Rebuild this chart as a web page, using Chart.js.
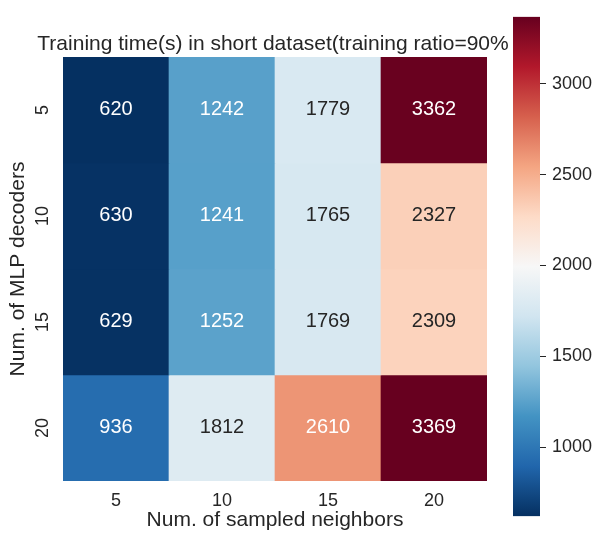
<!DOCTYPE html>
<html>
<head>
<meta charset="utf-8">
<script src="https://cdn.jsdelivr.net/npm/chart.js@4"></script>
<style>
  body { margin: 0; background: #fff; }
  #wrap { position: relative; width: 603px; height: 533px; }
  #heat { position: absolute; left: 0; top: 0; }
  #cbar { position: absolute; left: 500px; top: 0; }
</style>
</head>
<body>
<div id="wrap">
  <canvas id="heat" width="546" height="533"></canvas>
  <canvas id="cbar" width="103" height="533"></canvas>
</div>
<script>
// ---- Data ----
const neighbors = ["5", "10", "15", "20"];      // x categories
const decoders = ["5", "10", "15", "20"];       // y categories (top to bottom)
const dec5 = [620, 1242, 1779, 3362];
const dec10 = [630, 1241, 1765, 2327];
const dec15 = [629, 1252, 1769, 2309];
const dec20 = [936, 1812, 2610, 3369];
const cbarTicks = [1000, 1500, 2000, 2500, 3000];

const rows = [dec5, dec10, dec15, dec20];
const allValues = rows.flat();
const vmin = Math.min(...allValues);
const vmax = Math.max(...allValues);

// RdBu_r stops (low -> high)
const rdbuR = ["#053061", "#2166ac", "#4393c3", "#92c5de", "#d1e5f0", "#f7f7f7",
               "#fddbc7", "#f4a582", "#d6604d", "#b2182b", "#67001f"];

const TEXT = "#262626";
const FONT = '"Liberation Sans", Arial, sans-serif';
Chart.defaults.font.family = FONT;
Chart.defaults.color = TEXT;

function hexToRgb(h) {
  return [parseInt(h.slice(1, 3), 16), parseInt(h.slice(3, 5), 16), parseInt(h.slice(5, 7), 16)];
}

function cmap(v) {
  let t = (v - vmin) / (vmax - vmin);
  t = Math.max(0, Math.min(1, t)) * (rdbuR.length - 1);
  const i = Math.min(Math.floor(t), rdbuR.length - 2);
  const f = t - i;
  const a = hexToRgb(rdbuR[i]), b = hexToRgb(rdbuR[i + 1]);
  return a.map((c, k) => c + (b[k] - c) * f);
}

function toCss(rgb) {
  return "rgb(" + rgb.map(c => Math.round(c)).join(",") + ")";
}

// same rule seaborn uses to pick annotation colour
function textColor(rgb) {
  const lin = rgb.map(c => {
    c = c / 255;
    return c <= 0.03928 ? c / 12.92 : Math.pow((c + 0.055) / 1.055, 2.4);
  });
  const lum = 0.2126 * lin[0] + 0.7152 * lin[1] + 0.0722 * lin[2];
  return lum > 0.408 ? TEXT : "#ffffff";
}

// ---- Heatmap ----
const annotate = {
  id: "annotate",
  afterDatasetsDraw(chart) {
    const ctx = chart.ctx;
    ctx.save();
    ctx.font = "20px " + FONT;
    ctx.textAlign = "center";
    ctx.textBaseline = "middle";
    rows.forEach((row, di) => {
      chart.getDatasetMeta(di).data.forEach((bar, j) => {
        const p = bar.getCenterPoint();
        ctx.fillStyle = textColor(cmap(row[j]));
        ctx.fillText(String(row[j]), p.x, p.y - 1);
      });
    });
    ctx.restore();
  }
};

new Chart(document.getElementById("heat"), {
  type: "bar",
  data: {
    labels: neighbors,
    datasets: rows.map((row, i) => ({
      label: decoders[i],
      data: row.map(() => 1),
      backgroundColor: row.map(v => toCss(cmap(v))),
      borderWidth: 0,
      barPercentage: 1,
      categoryPercentage: 1
    }))
  },
  options: {
    responsive: false,
    animation: false,
    events: [],
    layout: { padding: 0 },
    plugins: {
      legend: { display: false },
      tooltip: { enabled: false },
      title: {
        display: true,
        text: "Training time(s) in short dataset(training ratio=90%",
        color: TEXT,
        font: { size: 21, weight: "normal" },
        padding: { top: 31.5, bottom: 0.3 }
      }
    },
    scales: {
      x: {
        stacked: true,
        grid: { display: false, drawTicks: false },
        border: { display: false },
        ticks: { font: { size: 18 }, color: TEXT, padding: 9 },
        title: {
          display: true,
          text: "Num. of sampled neighbors",
          color: TEXT,
          font: { size: 21 },
          padding: { top: 0, bottom: 0 }
        },
        afterFit: s => { s.height = 52; }
      },
      y: {
        stacked: true,
        reverse: true,
        min: 0,
        max: rows.length,
        grid: { display: false, drawTicks: false },
        border: { display: false },
        afterBuildTicks: s => { s.ticks = decoders.map((d, i) => ({ value: i + 0.5 })); },
        ticks: {
          autoSkip: false,
          minRotation: 90,
          maxRotation: 90,
          crossAlign: "center",
          padding: 10,
          font: { size: 18 },
          color: TEXT,
          callback: (v, i) => decoders[i]
        },
        title: {
          display: true,
          text: "Num. of MLP decoders",
          color: TEXT,
          font: { size: 21 },
          padding: { top: 6, bottom: 0 }
        },
        afterFit: s => { s.width = 63; }
      },
      // empty right-hand box so the title sits over the cells
      spacer: {
        type: "linear",
        position: "right",
        grid: { display: false, drawTicks: false },
        border: { display: false },
        ticks: { display: false },
        afterFit: s => { s.width = 59; }
      }
    }
  },
  plugins: [annotate]
});

// ---- Colour bar ----
function cbarFill(context) {
  const area = context.chart.chartArea;
  if (!area) return rdbuR[0];
  const g = context.chart.ctx.createLinearGradient(0, area.bottom, 0, area.top);
  rdbuR.forEach((c, i) => g.addColorStop(i / (rdbuR.length - 1), c));
  return g;
}

new Chart(document.getElementById("cbar"), {
  type: "bar",
  data: {
    labels: [""],
    datasets: [{
      data: [[vmin, vmax]],
      backgroundColor: cbarFill,
      borderWidth: 0,
      barPercentage: 1,
      categoryPercentage: 1
    }]
  },
  options: {
    responsive: false,
    animation: false,
    events: [],
    layout: { padding: { left: 13, right: 0, top: 6, bottom: 2 } },
    plugins: { legend: { display: false }, tooltip: { enabled: false } },
    scales: {
      x: { display: false },
      y: {
        position: "right",
        min: vmin,
        max: vmax,
        afterBuildTicks: s => { s.ticks = cbarTicks.map(v => ({ value: v })); },
        grid: { display: true, drawOnChartArea: false, drawTicks: true, tickLength: 6, tickColor: TEXT, tickWidth: 1 },
        border: { display: false },
        ticks: { font: { size: 18 }, color: TEXT, padding: 6, callback: v => String(v) },
        afterFit: s => { s.width = 63; }
      }
    }
  }
});
</script>
</body>
</html>
